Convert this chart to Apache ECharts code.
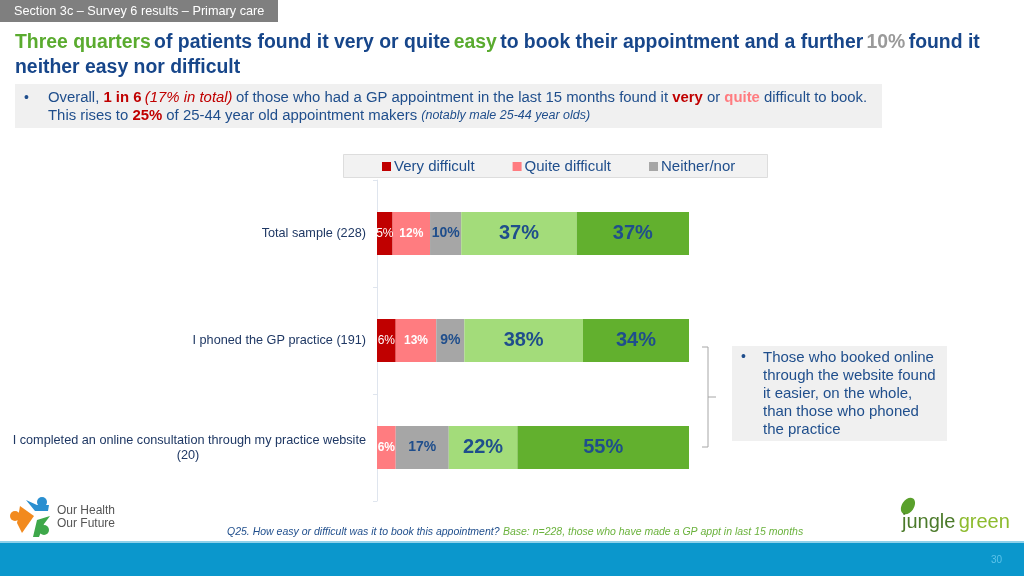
<!DOCTYPE html>
<html>
<head>
<meta charset="utf-8">
<script src="https://cdn.jsdelivr.net/npm/echarts@6/dist/echarts.min.js"></script>
<style>
html,body{margin:0;padding:0;background:#fff;}
#chart{width:1024px;height:576px;}
</style>
</head>
<body>
<div id="chart"></div>
<script>
const categories = ['Total sample (228)', 'I phoned the GP practice (191)', 'I completed an online consultation through my practice website\n(20)'];
const seriesNames = ['Very difficult', 'Quite difficult', 'Neither/nor', 'Quite easy', 'Very easy'];
const veryDifficult = [5, 6, 0];
const quiteDifficult = [12, 13, 6];
const neitherNor = [10, 9, 17];
const quiteEasy = [37, 38, 22];
const veryEasy = [37, 34, 55];
const legendItems = ['Very difficult', 'Quite difficult', 'Neither/nor'];

const FONT = '"Liberation Sans", Arial, sans-serif';
const BLUE = '#1f4e8c';
const colors = ['#c00000', '#ff7c80', '#a6a6a6', '#a3dc7a', '#62b02e'];
const values = [veryDifficult, quiteDifficult, neitherNor, quiteEasy, veryEasy];
const labelStyles = [
  {color: '#fff', fontSize: 12, fontWeight: 'normal'},
  {color: '#fff', fontSize: 12, fontWeight: 'bold'},
  {color: BLUE, fontSize: 14, fontWeight: 'bold'},
  {color: BLUE, fontSize: 20, fontWeight: 'bold'},
  {color: BLUE, fontSize: 20, fontWeight: 'bold'}
];

const chart = echarts.init(document.getElementById('chart'));

const series = seriesNames.map((name, i) => ({
  name: name,
  type: 'bar',
  stack: 'total',
  barWidth: 43,
  itemStyle: {color: colors[i]},
  label: {
    show: true,
    position: 'inside',
    fontFamily: FONT,
    color: labelStyles[i].color,
    fontSize: labelStyles[i].fontSize,
    fontWeight: labelStyles[i].fontWeight,
    formatter: p => p.value ? p.value + '%' : ''
  },
  emphasis: {disabled: true},
  data: values[i]
}));

const option = {
  animation: false,
  textStyle: {fontFamily: FONT},
  legend: {
    data: legendItems,
    left: 382,
    top: 159,
    icon: 'rect',
    itemWidth: 9,
    itemHeight: 9,
    itemGap: 38,
    padding: 0,
    textStyle: {color: BLUE, fontSize: 15, fontFamily: FONT, padding: [0, 0, 0, -2]},
    selectedMode: false
  },
  grid: {left: 377, width: 312, top: 180, height: 321},
  xAxis: {type: 'value', min: 0, max: 100, show: false},
  yAxis: {
    type: 'category',
    inverse: true,
    data: categories,
    axisLine: {show: true, lineStyle: {color: '#dfe5ee', width: 1}},
    axisTick: {show: true, length: 4, lineStyle: {color: '#dfe5ee'}},
    axisLabel: {
      margin: 11,
      color: '#1f3864',
      fontSize: 12.7,
      fontFamily: FONT,
      lineHeight: 15,
      formatter: function (v) {
        const parts = v.split('\n');
        if (parts.length === 1) return '{a|' + v + '}';
        return '{a|' + parts[0] + '}\n{b|' + parts[1] + '}';
      },
      rich: {
        a: {color: '#1f3864', fontSize: 12.7, fontFamily: FONT, lineHeight: 15},
        b: {color: '#1f3864', fontSize: 12.7, fontFamily: FONT, lineHeight: 15, width: 356, align: 'center'}
      }
    }
  },
  series: series,
  graphic: [
    // header tab
    {type: 'rect', left: 0, top: 0, shape: {width: 278, height: 22}, style: {fill: '#7f7f7f'}, z: 1},
    {type: 'text', left: 14, top: 5, style: {text: 'Section 3c – Survey 6 results – Primary care', fill: '#fff', font: '12.7px ' + FONT}, z: 2},
    // title
    {type: 'text', left: 15, top: 33, z: 2, style: {
      text: '{g|Three quarters} {b|of patients found it very or quite} {g|easy} {b|to book their appointment and a further} {gr|10%} {b|found it}\n{b|neither easy nor difficult}',
      rich: {
        g: {fill: '#5aab2f', font: 'bold 19.4px ' + FONT, lineHeight: 25},
        b: {fill: '#17468a', font: 'bold 19.4px ' + FONT, lineHeight: 25},
        gr: {fill: '#9a9a9a', font: 'bold 19.4px ' + FONT, lineHeight: 25}
      }
    }},
    // bullet box
    {type: 'rect', left: 15, top: 84, shape: {width: 867, height: 44}, style: {fill: '#f0f0f0'}, z: 1},
    {type: 'text', left: 24, top: 91, z: 2, style: {text: '•', fill: BLUE, font: '14px ' + FONT}},
    {type: 'text', left: 48, top: 90, z: 2, style: {
      text: '{n|Overall, }{rb|1 in 6} {ri|(17% in total)} {n|of those who had a GP appointment in the last 15 months found it }{rb|very}{n| or }{pb|quite}{n| difficult to book.}\n{n|This rises to }{rb|25%}{n| of 25-44 year old appointment makers }{ni|(notably male 25-44 year olds)}',
      rich: {
        n: {fill: BLUE, font: '14.9px ' + FONT, lineHeight: 18},
        rb: {fill: '#c00000', font: 'bold 14.9px ' + FONT, lineHeight: 18},
        ri: {fill: '#c00000', font: 'italic 14.9px ' + FONT, lineHeight: 18},
        pb: {fill: '#ff7c80', font: 'bold 14.9px ' + FONT, lineHeight: 18},
        ni: {fill: BLUE, font: 'italic 12.5px ' + FONT, lineHeight: 18}
      }
    }},
    // legend box
    {type: 'rect', left: 343, top: 154, shape: {width: 424, height: 23}, style: {fill: '#f2f2f2', stroke: '#dddddd', lineWidth: 1}, z: -1},
    // bracket
    {type: 'polyline', z: 2, shape: {points: [[702, 347], [708, 347], [708, 447], [702, 447]]}, style: {stroke: '#a6a6a6', lineWidth: 1, fill: null}},
    {type: 'line', z: 2, shape: {x1: 708, y1: 397, x2: 716, y2: 397}, style: {stroke: '#a6a6a6', lineWidth: 1}},
    // right box
    {type: 'rect', left: 732, top: 346, shape: {width: 215, height: 95}, style: {fill: '#f0f0f0'}, z: 1},
    {type: 'text', left: 741, top: 350, z: 2, style: {text: '•', fill: BLUE, font: '14px ' + FONT}},
    {type: 'text', left: 763, top: 349, z: 2, style: {text: 'Those who booked online\nthrough the website found\nit easier, on the whole,\nthan those who phoned\nthe practice', fill: BLUE, font: '15px ' + FONT, lineHeight: 18}},
    // footer question
    {type: 'text', left: 227, top: 526, z: 2, style: {
      text: '{q|Q25. How easy or difficult was it to book this appointment?} {b|Base: n=228, those who have made a GP appt in last 15 months}',
      rich: {
        q: {fill: BLUE, font: 'italic 10.5px ' + FONT},
        b: {fill: '#6ab23c', font: 'italic 10.5px ' + FONT}
      }
    }},
    // bottom bar
    {type: 'rect', left: 0, top: 543, shape: {width: 1024, height: 33}, style: {fill: '#0b97cc'}, z: 1},
    {type: 'rect', left: 0, top: 541, shape: {width: 1024, height: 2}, style: {fill: '#8fd1ea'}, z: 1},
    {type: 'text', left: 991, top: 555, z: 2, style: {text: '30', fill: '#5cc3ea', font: '10px ' + FONT}},
    // Our Health Our Future logo
    {type: 'circle', z: 2, shape: {cx: 15, cy: 516, r: 5}, style: {fill: '#f28a1e'}},
    {type: 'polygon', z: 2, shape: {points: [[20, 506], [34, 516], [22, 533], [17, 523]]}, style: {fill: '#f28a1e'}},
    {type: 'circle', z: 2, shape: {cx: 42, cy: 502, r: 5}, style: {fill: '#2a8fd0'}},
    {type: 'polygon', z: 2, shape: {points: [[26, 500], [35, 511], [48, 511], [49, 505], [37, 505]]}, style: {fill: '#2a8fd0'}},
    {type: 'circle', z: 2, shape: {cx: 44, cy: 530, r: 5}, style: {fill: '#3ea84a'}},
    {type: 'polygon', z: 2, shape: {points: [[33, 537], [37, 520], [50, 516], [44, 524], [39, 537]]}, style: {fill: '#3ea84a'}},
    {type: 'text', left: 57, top: 504, z: 2, style: {text: 'Our Health\nOur Future', fill: '#555', font: '12px ' + FONT, lineHeight: 13}},
    // jungle green logo
    {type: 'ellipse', z: 2, shape: {cx: 908, cy: 506, rx: 6, ry: 9}, rotation: -0.6, originX: 908, originY: 506, style: {fill: '#5aa02c'}},
    {type: 'text', left: 902, top: 512, z: 2, style: {
      text: '{a|jungle} {b|green}',
      rich: {
        a: {fill: '#4b7a2a', font: '20px ' + FONT},
        b: {fill: '#8dbb2e', font: '20px ' + FONT}
      }
    }}
  ]
};
chart.setOption(option);
</script>
</body>
</html>
